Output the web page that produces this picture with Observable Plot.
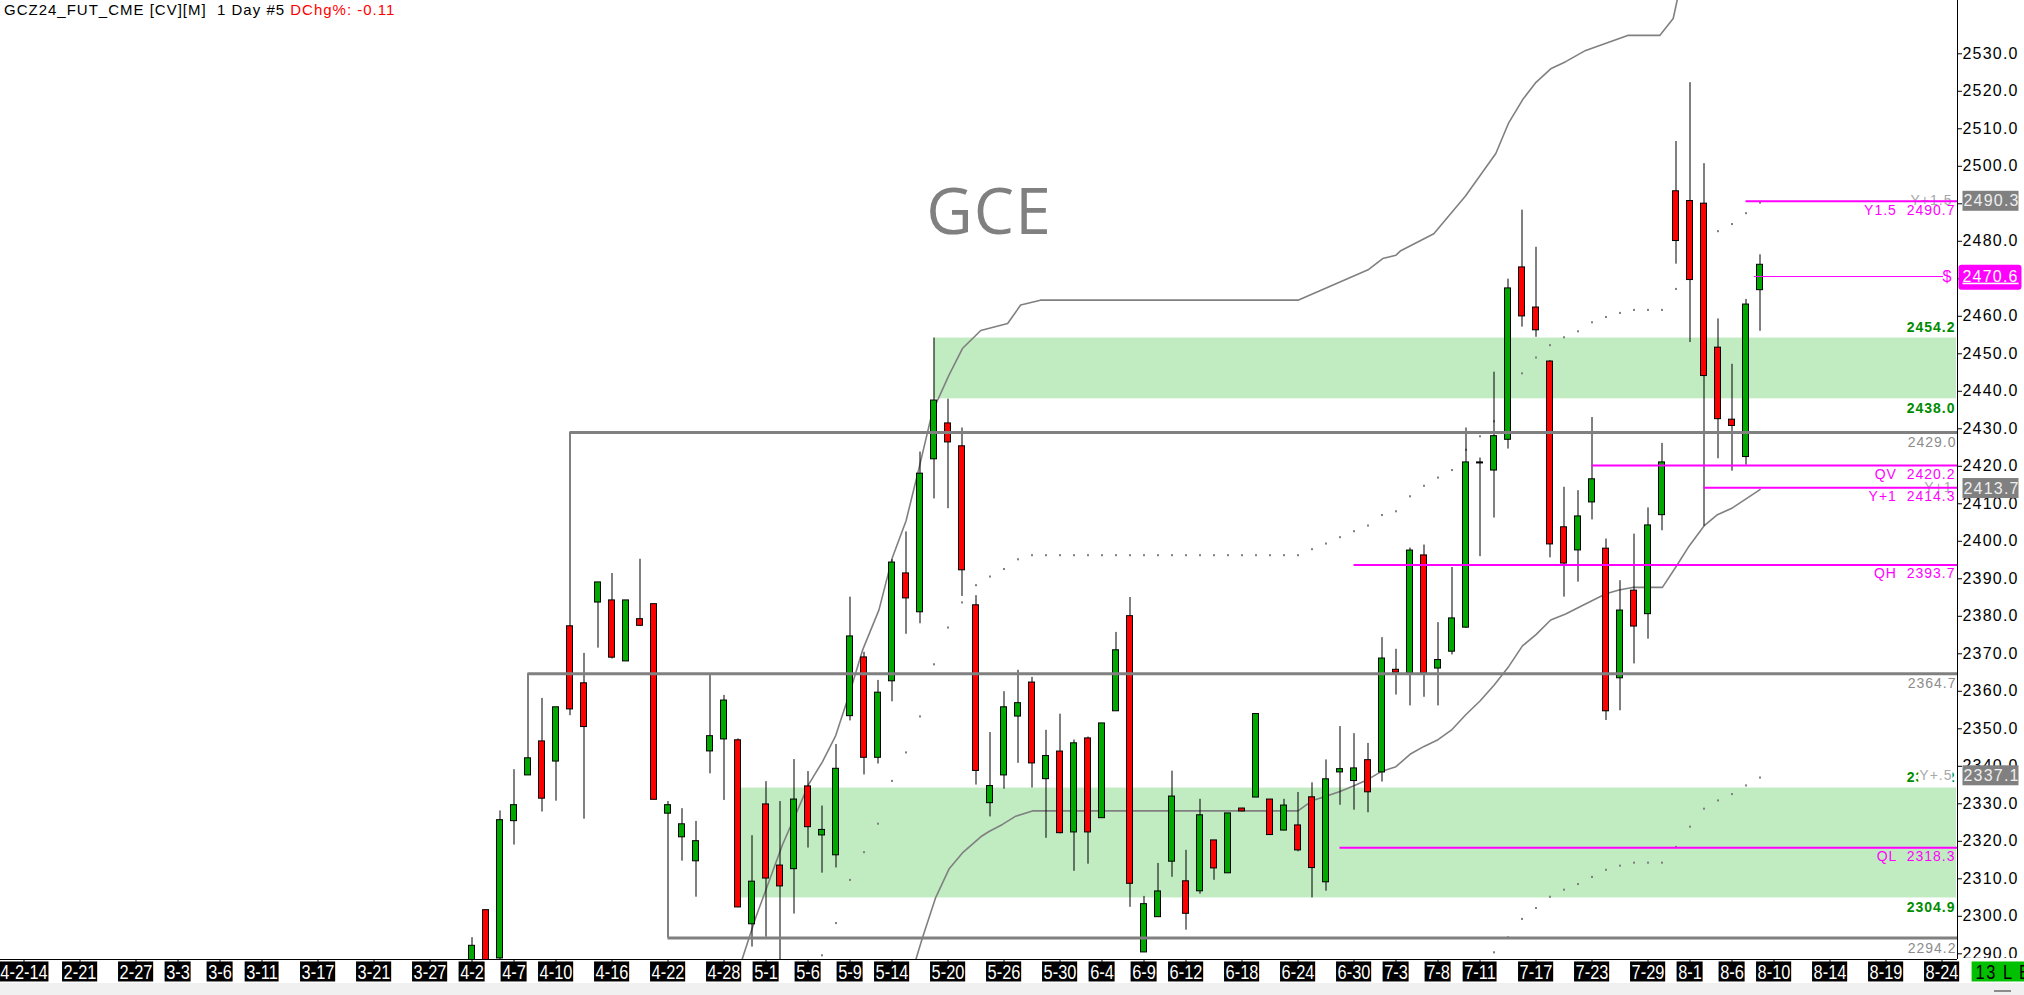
<!DOCTYPE html>
<html>
<head>
<meta charset="utf-8">
<script src="https://cdn.jsdelivr.net/npm/d3@7"></script>
<script src="https://cdn.jsdelivr.net/npm/@observablehq/plot@0.6"></script>
<style>
  html, body { margin: 0; padding: 0; }
  body { width: 2024px; height: 995px; overflow: hidden; position: relative; background: #f0f0f0; }
  #title { position: absolute; left: 4px; top: 1px; font: 15px "Liberation Sans", Arial, sans-serif; letter-spacing: 1px; white-space: pre; color: #000; }
  #title .chg { color: #ff0000; }
  #grip { position: absolute; left: 1994px; top: 990px; width: 17px; height: 2px; background: #8c8c8c; }
</style>
</head>
<body>
<div id="chart"></div>
<div id="title">GCZ24_FUT_CME [CV][M]  1 Day #5 <span class="chg">DChg%: -0.11</span></div>
<div id="grip"></div>
<script>
// ---------- data ----------
const openP  = [2287.0,2301.5,2288.9,2325.5,2337.7,2346.5,2341.4,2377.2,2362.0,2383.8,
                2384.1,2368.1,2379.1,2383.1,2327.5,2321.2,2314.8,2344.1,2347.3,2346.8,
                2298.0,2329.7,2313.4,2312.7,2334.5,2321.7,2316.4,2353.5,2368.9,2342.4,
                2362.8,2391.3,2381.2,2422.0,2431.3,2425.2,2382.8,2330.3,2337.7,2353.4,
                2362.2,2336.7,2343.8,2322.5,2347.3,2326.3,2354.8,2379.9,2290.5,2299.9,
                2314.7,2309.2,2306.8,2320.1,2311.6,2328.6,2331.8,2331.0,2323.0,2324.1,
                2331.6,2309.2,2338.5,2336.2,2341.5,2338.5,2365.6,2364.9,2396.1,2366.2,
                2370.7,2377.1,2420.9,2419.0,2427.2,2472.9,2462.2,2447.8,2403.6,2397.7,
                2410.5,2397.9,2363.6,2386.7,2380.7,2407.1,2493.2,2490.6,2489.9,2451.5,
                2432.3,2422.6,2467.1];
const highP  = [2294.3,2301.5,2328.1,2339.1,2364.7,2358.1,2355.6,2429.0,2370.1,2389.0,
                2391.4,2384.1,2395.2,2383.1,2330.6,2328.7,2325.3,2364.2,2358.9,2347.3,
                2321.5,2335.9,2330.6,2341.8,2338.6,2329.4,2345.8,2385.1,2370.4,2362.9,
                2395.1,2402.5,2423.8,2454.2,2437.9,2430.2,2385.5,2349.0,2359.9,2365.6,
                2363.7,2349.6,2353.9,2347.0,2347.8,2351.3,2375.7,2385.0,2305.3,2314.1,
                2338.7,2317.6,2331.2,2320.1,2327.3,2328.8,2353.8,2331.0,2331.2,2333.0,
                2335.6,2341.7,2350.6,2348.7,2346.1,2374.3,2371.2,2398.2,2399.0,2378.3,
                2393.0,2430.2,2422.2,2445.1,2469.9,2488.3,2478.4,2448.2,2414.4,2413.5,
                2433.0,2400.6,2389.5,2401.9,2408.9,2426.1,2506.6,2522.3,2500.7,2459.3,
                2447.2,2464.5,2476.4];
const lowP   = [2285.0,2283.0,2288.0,2319.0,2337.7,2327.8,2330.7,2353.5,2325.9,2371.5,
                2368.6,2368.1,2377.3,2331.2,2294.2,2314.7,2305.1,2338.0,2330.9,2302.3,
                2291.8,2294.4,2284.0,2300.6,2318.2,2311.5,2312.9,2352.1,2337.7,2340.6,
                2357.2,2375.2,2378.0,2411.3,2408.7,2385.3,2335.0,2326.5,2333.9,2340.8,
                2334.2,2320.8,2322.0,2312.0,2313.9,2326.3,2354.8,2302.4,2290.5,2299.9,
                2310.4,2296.3,2305.9,2309.6,2311.6,2327.9,2331.8,2321.8,2322.8,2317.2,
                2304.9,2306.7,2329.6,2328.3,2327.6,2335.8,2359.0,2356.1,2358.4,2356.1,
                2369.7,2376.8,2395.9,2406.2,2424.6,2457.1,2454.4,2395.6,2385.1,2389.1,
                2405.7,2352.2,2354.8,2367.3,2373.9,2402.8,2473.9,2453.0,2404.0,2422.0,
                2418.7,2420.3,2456.0];
const closeP = [2292.0,2285.0,2325.5,2329.5,2342.0,2331.5,2355.6,2355.3,2350.6,2388.9,
                2369.1,2384.1,2377.6,2331.2,2329.5,2324.4,2319.9,2347.9,2357.4,2302.5,
                2309.1,2310.2,2308.1,2331.0,2323.9,2322.9,2339.2,2374.5,2342.4,2359.5,
                2394.2,2384.9,2417.9,2437.4,2426.5,2392.4,2338.9,2334.6,2355.6,2356.7,
                2340.9,2342.6,2322.3,2346.0,2322.5,2351.3,2370.8,2308.8,2303.1,2306.5,
                2331.8,2300.8,2326.8,2312.9,2327.3,2328.1,2353.8,2321.8,2329.4,2317.7,
                2313.0,2336.4,2339.1,2339.3,2333.2,2368.6,2365.1,2397.4,2364.9,2368.2,
                2379.3,2420.9,2420.9,2427.9,2467.3,2460.1,2456.4,2399.3,2394.2,2406.5,
                2416.4,2354.8,2381.4,2377.4,2404.1,2420.9,2480.2,2469.8,2444.2,2432.7,
                2430.9,2463.0,2473.6];

// date tick labels (bar index where the label sits; bar 0 = 4-2)
const dateLabels = ["4-2-14","2-21","2-27","3-3","3-6","3-11","3-17","3-21","3-27","4-2",
                    "4-7","4-10","4-16","4-22","4-28","5-1","5-6","5-9","5-14","5-20",
                    "5-26","5-30","6-4","6-9","6-12","6-18","6-24","6-30","7-3","7-8",
                    "7-11","7-17","7-23","7-29","8-1","8-6","8-10","8-14","8-19","8-24"];
const dateIndex  = [-32,-28,-24,-21,-18,-15,-11,-7,-3,0,
                    3,6,10,14,18,21,24,27,30,34,
                    38,42,45,48,51,55,59,63,66,69,
                    72,76,80,84,87,90,93,97,101,105];

// price axis ticks
const priceTicks = [2290,2300,2310,2320,2330,2340,2350,2360,2370,2380,2390,2400,2410,
                    2420,2430,2440,2450,2460,2470,2480,2490,2500,2510,2520,2530];

// dotted series (one dot per bar)
const midDotStart = 25;
const midDotVals = [2289.6,2298.2,2309.7,2317.1,2324.7,2336.1,2343.7,2353.3,2367.2,2377.0,
                    2383.7,2388.3,2390.6,2392.6,2395.2,
                    2396.3,2396.3,2396.3,2396.3,2396.3,2396.3,2396.3,2396.3,2396.3,2396.3,
                    2396.3,2396.3,2396.3,2396.3,2396.3,2396.3,2396.3,2396.3,2396.3,2396.3,
                    2397.9,2399.4,2401.1,2402.7,2404.2,2407.0,2408.0,2412.0,2414.8,2417.0,
                    2419.0,2424.4,2428.0,2432.0,2438.5,2444.8,2449.0,2452.3,2454.4,2456.0,
                    2458.4,2459.8,2460.9,2461.7,2461.7,2461.7,2467.3,2474.0,2479.5,2482.7,
                    2484.6,2487.5,2490.3];
const lowDotStart = 73;
const lowDotVals = [2290.4,2294.4,2299.3,2302.2,2305.2,2307.1,2308.6,2310.5,2312.4,2313.5,
                    2314.3,2314.3,2314.3,2318.5,2323.9,2328.7,2330.9,2332.6,2334.9,2337.0];

// solid envelope lines (bar index, price)
const upperBandIdx = [18.5,19.3,20.26,22.17,24.07,25.03,25.98,26.93,27.89,29.07,30.03,31.0,31.93,32.89,
                      34.07,35.03,36.34,38.26,39.19,40.6,59.0,64.05,65.05,66.0,66.34,68.7,70.95,73.13,
                      74.05,75.05,76.0,77.05,78.12,79.55,82.55,84.84,85.8,86.3];
const upperBandVal = [2280,2288.6,2299.6,2319.0,2335.3,2341.2,2348.2,2359.0,2370.9,2381.7,2395.7,2405.4,2419.5,2434.6,
                      2444.3,2451.4,2456.2,2458.1,2463.0,2464.3,2464.3,2472.5,2475.4,2476.3,2477.5,2482.0,2492.0,2503.4,
                      2511.6,2517.8,2522.4,2526.0,2527.9,2530.9,2534.9,2534.9,2539.4,2548];
const lowerBandIdx = [31.3,31.69,32.17,33.12,34.07,35.03,36.34,36.93,37.89,38.84,40.03,59,60,61,62,63,64,65,66,
                      67,68,69,70,71,72,73,74.07,75.03,76,77.05,78.12,79.07,80.03,81,81.93,82.89,85.03,86,
                      86.93,88,88.96,90.03,91,92];
const lowerBandVal = [2280,2288.3,2294.2,2305.0,2312.6,2316.9,2321.2,2322.6,2324.5,2326.7,2328.1,2328.1,2330.8,2332.0,
                      2333.3,2334.8,2336.5,2338.7,2339.9,2343.2,2345.3,2347.1,2349.8,2353.8,2357.4,2361.6,2366.7,
                      2372.1,2375.1,2379.0,2380.6,2382.4,2384.2,2386.0,2387.0,2387.7,2387.7,2393.2,2398.7,2404.1,
                      2407.1,2408.9,2411.3,2413.8];

// green zones
const zoneFrom = [33, 19.25];
const zoneLow  = [2438.0, 2304.9];
const zoneHigh = [2454.2, 2334.2];

// grey swing levels
const levelVal  = [2429.0, 2364.7, 2294.2];
const levelFrom = [7, 4, 14];

// magenta levels
const magName = ["Y1.5", "QV", "Y+1", "QH", "QL"];
const magVal  = [2490.7, 2420.2, 2414.3, 2393.7, 2318.3];
const magFrom = [91, 80, 88, 63, 62];

// last price
const lastPrice = 2470.6;
const lastFrom = 91.6;

// right-hand envelope tags
const tagName = ["Y+1.5", "Y+1", "Y+.5"];
const tagVal  = [2490.3, 2413.7, 2337.1];

const watermark = "GCE";
const statusText = "13 L E";

// ---------- build tables ----------
const bars = openP.map((o, i) => ({i, o, h: highP[i], l: lowP[i], c: closeP[i]}));
const dates = dateLabels.map((t, k) => ({t, i: dateIndex[k]}));
const midDots = midDotVals.map((v, k) => ({i: midDotStart + k, v}));
const lowDots = lowDotVals.map((v, k) => ({i: lowDotStart + k, v}));
const upperBand = upperBandIdx.map((i, k) => ({i, v: upperBandVal[k]}));
const lowerBand = lowerBandIdx.map((i, k) => ({i, v: lowerBandVal[k]}));
const zones = zoneFrom.map((f, k) => ({from: f, lo: zoneLow[k], hi: zoneHigh[k]}));
const levels = levelVal.map((v, k) => ({v, from: levelFrom[k]}));
const mags = magVal.map((v, k) => ({v, from: magFrom[k], label: `${magName[k]}  ${v.toFixed(1)}`}));
const tags = tagVal.map((v, k) => ({v, t: tagName[k]}));
const price = [{v: lastPrice, from: lastFrom}];

const xDomain = [-33.678571, 106.107143];
const yDomain = [2288.48, 2544.21];
const xEnd = xDomain[1];

const GREEN = "#00a800", RED = "#ff0000", ZONE = "#c1ebc1", GREY = "#808080", MAG = "#ff00ff";
const SANS = "'Liberation Sans', Arial, sans-serif";

// distinct colours used to find the text groups afterwards
const DATE_FILL = "#fffffe", VBOX_FILL = "#eeeeee", VMAG_FILL = "#fffffd", TAG_FILL = "#a8a8a8", STATUS_FILL = "#000001";

const chart = Plot.plot({
  width: 2024,
  height: 983,
  marginLeft: 0,
  marginRight: 67,
  marginTop: 0,
  marginBottom: 24,
  x: {domain: xDomain, axis: null},
  y: {domain: yDomain, axis: null},
  style: {fontFamily: SANS, background: "white", color: "black"},
  marks: [
    Plot.rect(zones, {x1: "from", x2: xEnd, y1: "lo", y2: "hi", fill: ZONE, insetRight: 1}),
    Plot.text([watermark], {text: d => d, frameAnchor: "top", dx: 10, dy: 213, lineAnchor: "middle",
      fontSize: 64, fontFamily: "'Open Sans', sans-serif", fill: GREY}),
    Plot.dot(midDots, {x: "i", y: "v", r: 1.15, symbol: "square", fill: GREY, clip: true}),
    Plot.dot(lowDots, {x: "i", y: "v", r: 1.15, symbol: "square", fill: GREY, clip: true}),
    Plot.line(upperBand, {x: "i", y: "v", stroke: GREY, strokeWidth: 1.6, clip: true}),
    Plot.line(lowerBand, {x: "i", y: "v", stroke: GREY, strokeWidth: 1.6, clip: true}),
    Plot.ruleX(bars, {x: "i", y1: "l", y2: "h", stroke: "black", strokeWidth: 1, clip: true}),
    Plot.rect(bars, {
      x1: d => d.i - 0.5, x2: d => d.i + 0.5,
      y1: d => Math.min(d.o, d.c), y2: d => Math.max(d.o, d.c),
      insetLeft: 4, insetRight: 4, insetTop: -0.5, insetBottom: -0.5,
      fill: d => d.c > d.o ? GREEN : d.c < d.o ? RED : "black",
      stroke: "black", strokeWidth: 1, clip: true
    }),
    Plot.ruleY(levels, {y: "v", x1: "from", x2: xEnd, stroke: GREY, strokeWidth: 3}),
    Plot.text(zones, {y: "hi", text: d => d.hi.toFixed(1), frameAnchor: "right", dx: -2, dy: -11,
      textAnchor: "end", fill: "#008c00", fontWeight: "bold", fontSize: 14}),
    Plot.text(zones, {y: "lo", text: d => d.lo.toFixed(1), frameAnchor: "right", dx: -2, dy: 10,
      textAnchor: "end", fill: "#008c00", fontWeight: "bold", fontSize: 14}),
    Plot.text(levels, {y: "v", text: d => d.v.toFixed(1), frameAnchor: "right", dx: -1, dy: 10,
      textAnchor: "end", fill: "#8c8c8c", fontSize: 14}),
    Plot.text(tags, {y: "v", text: "t", frameAnchor: "right", dx: -5, dy: -2,
      textAnchor: "end", fill: TAG_FILL, fontSize: 14}),
    Plot.ruleY(mags, {y: "v", x1: "from", x2: xEnd, stroke: MAG, strokeWidth: 2}),
    Plot.text(mags, {y: "v", text: "label", frameAnchor: "right", dx: -2, dy: 9,
      textAnchor: "end", fill: MAG, fontSize: 14}),
    Plot.ruleY(price, {y: "v", x1: "from", x2: xEnd, insetRight: 14, stroke: MAG, strokeWidth: 1}),
    Plot.text(price, {y: "v", text: () => "$", frameAnchor: "right", dx: -5, textAnchor: "end",
      fill: MAG, fontSize: 16}),
    Plot.ruleY([yDomain[0]], {stroke: "black", strokeWidth: 1}),
    Plot.ruleX([xEnd], {stroke: "black", strokeWidth: 1}),
    Plot.axisY({anchor: "right", ticks: priceTicks, tickFormat: d => d.toFixed(1), tickSize: 4,
      tickPadding: 1, fontSize: 16}),
    Plot.axisX({anchor: "bottom", ticks: dateIndex, tickFormat: () => "", tickSize: 4}),
    Plot.text(tags, {y: "v", text: d => d.v.toFixed(1), frameAnchor: "right", dx: 6, dy: -1.5,
      textAnchor: "start", fill: VBOX_FILL, fontSize: 16}),
    Plot.text(price, {y: "v", text: d => d.v.toFixed(1), frameAnchor: "right", dx: 5,
      textAnchor: "start", fill: VMAG_FILL, fontSize: 16}),
    Plot.text(dates, {x: "i", text: "t", frameAnchor: "bottom", dy: 12.5, lineAnchor: "middle",
      fill: DATE_FILL, fontSize: 21, fontFamily: SANS}),
    Plot.text([statusText], {text: d => d, frameAnchor: "bottom-right", dx: 18, dy: 12.5, lineAnchor: "middle",
      textAnchor: "start", fill: STATUS_FILL, fontSize: 21, fontFamily: SANS})
  ]
});

document.getElementById("chart").appendChild(chart);

// ---------- finishing touches ----------
const svg = d3.select(chart);
const textsOf = fill => svg.selectAll(`g[fill="${fill}"] text, text[fill="${fill}"]`);

svg.selectAll("text").style("letter-spacing", "1px");
svg.selectAll('g[aria-label="y-axis tick label"] text').style("letter-spacing", "1.2px");
textsOf(VBOX_FILL).style("letter-spacing", "1.2px");
textsOf(VMAG_FILL).style("letter-spacing", "1.2px").style("text-decoration", "underline");
textsOf(DATE_FILL).style("letter-spacing", "0px");
textsOf(STATUS_FILL).style("letter-spacing", "2px");
textsOf(MAG).style("white-space", "pre");

// condensed look for the date/status labels: squeeze each text horizontally around its anchor
function condense(fillKey, k) {
  textsOf(fillKey).each(function () {
    let tr = this.getAttribute("transform");
    if (!tr) {
      const x = +(this.getAttribute("x") || 0), y = +(this.getAttribute("y") || 0);
      this.removeAttribute("x"); this.removeAttribute("y");
      tr = `translate(${x},${y})`;
    }
    this.setAttribute("transform", `${tr} scale(${k},1)`);
  });
}
condense(DATE_FILL, 0.78);
condense(STATUS_FILL, 0.78);

function addBackground(fillKey, bg, {padL = 1, padR = 1, h = 20, rx = 0, shiftY = 0, w = null} = {}) {
  textsOf(fillKey).each(function () {
    const node = this;
    const b = node.getBBox();
    const cy = b.y + b.height / 2 + shiftY;
    const r = d3.select(node.parentNode).insert("rect", () => node)
      .attr("x", b.x - padL)
      .attr("y", cy - h / 2)
      .attr("width", w != null ? w : b.width + padL + padR)
      .attr("height", h)
      .attr("rx", rx)
      .attr("fill", bg)
      .attr("stroke", "none");
    const tr = node.getAttribute("transform");
    if (tr) r.attr("transform", tr);
  });
}
addBackground(TAG_FILL, "white", {padL: 1, padR: 0, h: 16});
addBackground(VBOX_FILL, GREY, {padL: 1, padR: 2, h: 20, w: 56});
addBackground(VMAG_FILL, MAG, {padL: 4, padR: 4, h: 25, rx: 3, shiftY: 1, w: 63});
addBackground(DATE_FILL, "black", {padL: 2, padR: 1, h: 20});
addBackground(STATUS_FILL, "#00c000", {padL: 5, padR: 10, h: 20, w: 80});

// price labels are cut at the bottom edge of the plot
const clip = svg.insert("defs", ":first-child").append("clipPath").attr("id", "priceClip");
clip.append("rect").attr("x", 1900).attr("y", 0).attr("width", 124).attr("height", 958);
const axisG = svg.select('g[aria-label="y-axis tick label"]').node();
if (axisG) {
  const wrap = svg.insert("g", () => axisG).attr("clip-path", "url(#priceClip)");
  wrap.node().appendChild(axisG);
}
</script>
</body>
</html>
